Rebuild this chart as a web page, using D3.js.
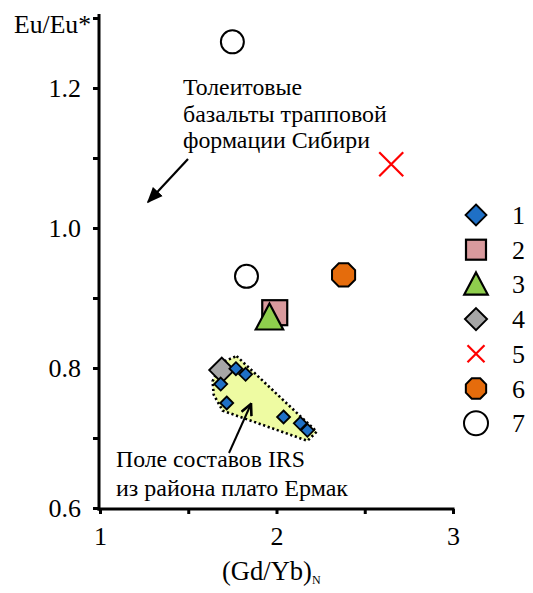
<!DOCTYPE html>
<html>
<head>
<meta charset="utf-8">
<script src="https://cdn.jsdelivr.net/npm/d3@7"></script>
<style>
  html, body { margin: 0; padding: 0; background: #fff; }
</style>
</head>
<body>
<svg id="chart" width="533" height="593"></svg>
<script>
// (Gd/Yb)N vs Eu/Eu* — data by group
const group1 = [ // IRS, Ermak plateau
  [1.77, 0.799], [1.825, 0.791], [1.684, 0.777], [1.718, 0.750],
  [2.04, 0.730], [2.135, 0.721], [2.175, 0.711]
];
const group2 = [[1.99, 0.879]];
const group3 = [[1.96, 0.872]];
const group4 = [[1.69, 0.797]];
const group5 = [[2.65, 1.091]];
const group6 = [[2.38, 0.933]];
const group7 = [[1.75, 1.266], [1.83, 0.931]];

// outline of the IRS field
const irsField = [
  [1.774, 0.817], [2.228, 0.709], [2.175, 0.696], [1.695, 0.739],
  [1.644, 0.762], [1.638, 0.781], [1.690, 0.808]
];

const xTicks = [1, 1.5, 2, 2.5, 3];
const xTickLabels = ["1", "", "2", "", "3"];
const yTicks = [0.6, 0.7, 0.8, 0.9, 1.0, 1.1, 1.2, 1.3];
const yTickLabels = ["0.6", "", "0.8", "", "1.0", "", "1.2", ""];
const legendLabels = ["1", "2", "3", "4", "5", "6", "7"];

const FONT = "Liberation Serif";
const FS = 26;

const svg = d3.select("#chart");
const x = d3.scaleLinear().domain([1, 3]).range([100, 453]);
const y = d3.scaleLinear().domain([0.6, 1.3]).range([508, 18]);

// marker painters
const markers = {
  1: (g, s) => g.append("path").attr("d", diamond(s || 6.5)).attr("fill", "#1f70c6").attr("stroke", "#000").attr("stroke-width", 1.8),
  2: (g, s) => g.append("rect").attr("x", -(s || 12.5)).attr("y", -(s || 12.5)).attr("width", 2 * (s || 12.5)).attr("height", 2 * (s || 12.5))
      .attr("fill", "#d99a9d").attr("stroke", "#000").attr("stroke-width", 2.2),
  3: (g, s) => { const r = s || 14; g.append("path").attr("d", `M0,${-r} L${r * 0.98},${r * 0.85} L${-r * 0.98},${r * 0.85} Z`)
      .attr("fill", "#8fce4d").attr("stroke", "#000").attr("stroke-width", 2.2); },
  4: (g, s) => g.append("path").attr("d", diamond(s || 12.5)).attr("fill", "#a6a6a6").attr("stroke", "#000").attr("stroke-width", 2),
  5: (g, s) => { const r = s || 12; g.append("path").attr("d", `M${-r},${-r}L${r},${r}M${r},${-r}L${-r},${r}`)
      .attr("stroke", "#ff0000").attr("stroke-width", 2.2).attr("fill", "none"); },
  6: (g, s) => { const r = s || 12.5; const pts = d3.range(8).map(i => {
        const a = Math.PI / 8 + i * Math.PI / 4; return [r * Math.cos(a), r * Math.sin(a)]; });
      g.append("path").attr("d", "M" + pts.join("L") + "Z").attr("fill", "#e56c0c").attr("stroke", "#000").attr("stroke-width", 2); },
  7: (g, s) => g.append("circle").attr("r", s || 11.5).attr("fill", "#fff").attr("stroke", "#000").attr("stroke-width", 2)
};
function diamond(r) { return `M0,${-r}L${r},0L0,${r}L${-r},0Z`; }

// IRS field polygon
svg.append("path")
  .attr("d", d3.line().x(d => x(d[0])).y(d => y(d[1])).curve(d3.curveLinearClosed)(irsField))
  .attr("fill", "#eefba2")
  .attr("stroke", "#000")
  .attr("stroke-width", 2.6)
  .attr("stroke-dasharray", "2.2,2.6");

// arrow heads
const defs = svg.append("defs");
defs.append("marker").attr("id", "headFilled").attr("viewBox", "0 0 10 10")
  .attr("refX", 9).attr("refY", 5).attr("markerWidth", 16).attr("markerHeight", 16)
  .attr("markerUnits", "userSpaceOnUse").attr("orient", "auto")
  .append("path").attr("d", "M0,0.8 L10,5 L0,9.2 Z").attr("fill", "#000");
defs.append("marker").attr("id", "headOpen").attr("viewBox", "0 0 10 10")
  .attr("refX", 9).attr("refY", 5).attr("markerWidth", 13).attr("markerHeight", 13)
  .attr("markerUnits", "userSpaceOnUse").attr("orient", "auto")
  .append("path").attr("d", "M0.5,0.8 L9,5 L0.5,9.2").attr("fill", "none").attr("stroke", "#000").attr("stroke-width", 2);

svg.append("line").attr("x1", 188).attr("y1", 159).attr("x2", 148).attr("y2", 202)
  .attr("stroke", "#000").attr("stroke-width", 2.2).attr("marker-end", "url(#headFilled)");
svg.append("line").attr("x1", 229).attr("y1", 453).attr("x2", 251).attr("y2", 404)
  .attr("stroke", "#000").attr("stroke-width", 2).attr("marker-end", "url(#headOpen)");

// data points
function plot(data, key) {
  data.forEach(d => {
    const g = svg.append("g").attr("transform", `translate(${x(d[0])},${y(d[1])})`);
    markers[key](g);
  });
}
plot(group7, 7);
plot(group6, 6);
plot(group5, 5);
plot(group2, 2);
plot(group3, 3);
plot(group4, 4);
plot(group1, 1);

// axes
const yAxis = svg.append("g").attr("transform", "translate(99,0)")
  .call(d3.axisLeft(y).tickValues(yTicks).tickFormat((d, i) => yTickLabels[i]).tickSize(6).tickSizeOuter(0));
const xAxis = svg.append("g").attr("transform", "translate(0,509)")
  .call(d3.axisBottom(x).tickValues(xTicks).tickFormat((d, i) => xTickLabels[i]).tickSize(5).tickSizeOuter(0));
[yAxis, xAxis].forEach(a => {
  a.attr("font-family", FONT).attr("font-size", FS);
  a.select(".domain").attr("stroke", "#000").attr("stroke-width", 3);
  a.selectAll(".tick line").attr("stroke", "#000").attr("stroke-width", 3);
  a.selectAll("text").attr("fill", "#000").attr("font-family", FONT).attr("font-size", FS);
});
yAxis.select(".domain").attr("d", "M0,14V510.5");
xAxis.select(".domain").attr("d", "M97.5,0H454.5");
yAxis.selectAll(".tick text").attr("x", -18).attr("dy", "0.34em");
xAxis.selectAll(".tick text").attr("y", 36).attr("dy", 0);

// text helper: optional target width sets the font size
function label(parent, tx, ty, str, width) {
  const t = parent.append("text").attr("x", tx).attr("y", ty)
    .attr("font-family", FONT).attr("font-size", FS).attr("fill", "#000").text(str);
  if (width) {
    const w = t.node().getComputedTextLength();
    if (w > 0) t.attr("font-size", FS * width / w);
  }
  return t;
}

// axis titles
label(svg, 14, 33, "Eu/Eu*", 77);
const xt = label(svg, 222, 580, "(Gd/Yb)", 90);
xt.append("tspan").attr("font-size", 12).attr("dy", 4).text("N");

// annotations
const note1 = ["Толеитовые", "базальты трапповой", "формации Сибири"];
const note1W = [119, 204, 187];
note1.forEach((t, i) => label(svg, 183, 95 + i * 26.6, t, note1W[i]));
const note2 = ["Поле составов IRS", "из района плато Ермак"];
const note2W = [189, 232];
note2.forEach((t, i) => label(svg, 116, 467 + i * 28.5, t, note2W[i]));

// legend
const legendSizes = [10.5, 10, 12, 11, 8.5, 11, 12];
legendLabels.forEach((lab, i) => {
  const cy = 215 + i * 34.7;
  const g = svg.append("g").attr("transform", `translate(476,${cy})`);
  markers[i + 1](g, legendSizes[i]);
  label(svg, 512, cy + 9, lab);
});
</script>
</body>
</html>
